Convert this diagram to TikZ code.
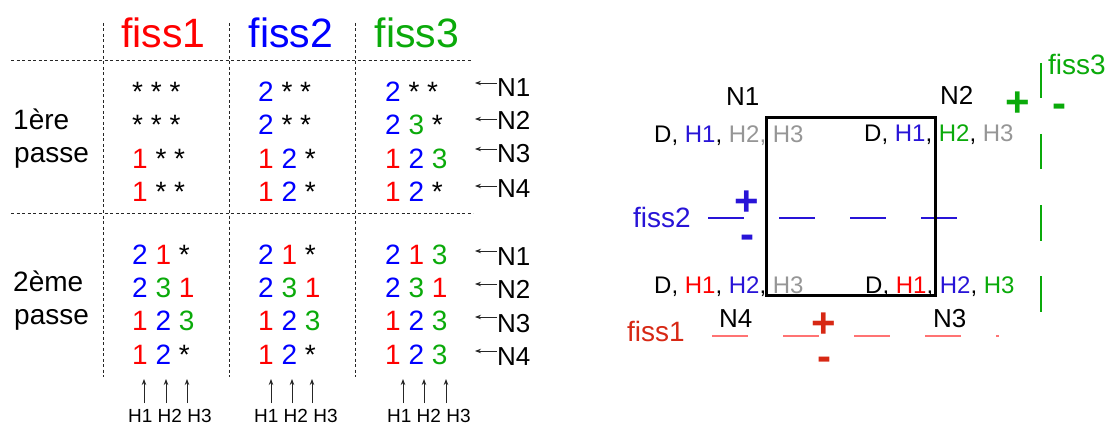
\documentclass[tikz,border=0pt]{standalone}
\usepackage{fontspec}
\setmainfont{Liberation Sans}
\usetikzlibrary{arrows.meta}
\definecolor{cred}{RGB}{255,0,0}
\definecolor{cblue}{RGB}{0,0,255}
\definecolor{cgreen}{RGB}{10,170,10}
\definecolor{rblue}{RGB}{40,20,215}
\definecolor{rred}{RGB}{215,40,20}
\definecolor{rpink}{RGB}{255,115,115}
\definecolor{cgray}{RGB}{150,150,150}
\newcommand\cR[1]{\textcolor{cred}{#1}}
\newcommand\cB[1]{\textcolor{cblue}{#1}}
\newcommand\cG[1]{\textcolor{cgreen}{#1}}
\newcommand\rB[1]{\textcolor{rblue}{#1}}
\newcommand\cY[1]{\textcolor{cgray}{#1}}
\newcommand\fs[1]{\fontsize{#1}{#1}\selectfont}
\begin{document}
\begin{tikzpicture}[x=1pt,y=-1pt,
  tdash/.style={draw=black!85, line width=0.8pt, dash pattern=on 3pt off 2.5pt},
  head/.style={anchor=base, inner sep=0pt, font=\fs{41}},
  rowlab/.style={anchor=base west, inner sep=0pt, font=\fs{28}},
  cell/.style={anchor=base west, inner sep=0pt, font=\fs{28}},
  nlab/.style={anchor=base west, inner sep=0pt, font=\fs{26}},
  narrow/.style={-{Stealth[length=6pt,width=4.5pt]}, line width=0.9pt, draw=black!85},
  hlab/.style={anchor=base west, inner sep=0pt, font=\fs{19}},
  htxt/.style={anchor=base west, inner sep=0pt, font=\fs{24}},
  pm/.style={anchor=base, inner sep=0pt, font=\bfseries\fs{42}},
  flab/.style={anchor=base west, inner sep=0pt, font=\fs{28}},
  crack/.style={line width=1.2pt, dash pattern=on 35.5pt off 35.5pt}
]
\useasboundingbox (0,0) rectangle (1109,425);

% ---------- left table ----------
\foreach \x in {103,229,355} \draw[tdash] (\x,23) -- (\x,377);
\draw[tdash] (11,60) -- (471,60);
\draw[tdash] (11,213) -- (473,213);

\node[head,text=cred]   (h1) at (163.5,48) {fiss1};
\node[head,text=cblue]  (h2) at (291,48) {fiss2};
\node[head,text=cgreen] (h3) at (417,48) {fiss3};

\node[rowlab] (p1a) at (13,130) {1ère};
\node[rowlab] (p1b) at (14,163) {passe};
\node[rowlab] (p2a) at (13,291) {2ème};
\node[rowlab] (p2b) at (14,324) {passe};

% first pass
\node[cell] (a11) at (132,102) {* * *};
\node[cell] (a12) at (132,135) {* * *};
\node[cell] (a13) at (132,168) {\cR{1} * *};
\node[cell] (a14) at (132,201) {\cR{1} * *};
\node[cell] (b11) at (258,102) {\cB{2} * *};
\node[cell] (b12) at (258,135) {\cB{2} * *};
\node[cell] (b13) at (258,168) {\cR{1} \cB{2} *};
\node[cell] (b14) at (258,201) {\cR{1} \cB{2} *};
\node[cell] (c11) at (385,102) {\cB{2} * *};
\node[cell] (c12) at (385,135) {\cB{2} \cG{3} *};
\node[cell] (c13) at (385,168) {\cR{1} \cB{2} \cG{3}};
\node[cell] (c14) at (385,201) {\cR{1} \cB{2} *};
% second pass
\node[cell] (a21) at (132,264) {\cB{2} \cR{1} *};
\node[cell] (a22) at (132,297) {\cB{2} \cG{3} \cR{1}};
\node[cell] (a23) at (132,330) {\cR{1} \cB{2} \cG{3}};
\node[cell] (a24) at (132,364) {\cR{1} \cB{2} *};
\node[cell] (b21) at (258,264) {\cB{2} \cR{1} *};
\node[cell] (b22) at (258,297) {\cB{2} \cG{3} \cR{1}};
\node[cell] (b23) at (258,330) {\cR{1} \cB{2} \cG{3}};
\node[cell] (b24) at (258,364) {\cR{1} \cB{2} *};
\node[cell] (c21) at (385,264) {\cB{2} \cR{1} \cG{3}};
\node[cell] (c22) at (385,297) {\cB{2} \cG{3} \cR{1}};
\node[cell] (c23) at (385,330) {\cR{1} \cB{2} \cG{3}};
\node[cell] (c24) at (385,364) {\cR{1} \cB{2} \cG{3}};

% N labels with arrows
\foreach \i/\n/\yb/\ya in {1/1/97/83, 2/2/130/119, 3/3/163/149, 4/4/197/186,
                           5/1/265/251, 6/2/298/284, 7/3/332/317, 8/4/365/351} {
  \node[nlab] (nl\i) at (497,\yb) {N\n};
  \coordinate (nt\i) at (475,\ya);
  \draw[narrow] (nt\i -| nl\i.west) -- (nt\i);
}

% H arrows and labels
\foreach \x [count=\k] in {144,166,187,271,292,312,403,424,446} {
  \coordinate (hb\k) at (\x,403);
  \coordinate (ht\k) at (\x,379);
  \draw[narrow] (hb\k) -- (ht\k);
}
\node[hlab] (hl1) at (128,422) {H1 H2 H3};
\node[hlab] (hl2) at (254,422) {H1 H2 H3};
\node[hlab] (hl3) at (387,422) {H1 H2 H3};

% ---------- right diagram ----------
% cracks
\coordinate (f2a) at (708,218); \coordinate (f2b) at (957,218);
\coordinate (f1a) at (712,336); \coordinate (f1b) at (999,336);
\coordinate (f3a) at (1041,63); \coordinate (f3b) at (1041,312);
\draw[crack,draw=rblue] (f2a) -- (f2b);
\draw[crack,draw=rpink] (f1a) -- (f1b);
\draw[crack,draw=cgreen] (f3a) -- (f3b);

\node[flab,text=rblue]  (lf2) at (633,227) {fiss2};
\node[flab,text=rred]   (lf1) at (627,341) {fiss1};
\node[flab,text=cgreen] (lf3) at (1048,75) {fiss3};

\node[pm,text=cgreen] (gp) at (1018,117) {+};
\node[pm,text=cgreen] (gm) at (1059,118) {-};
\node[pm,text=rblue]  (bp) at (747,215) {+};
\node[pm,text=rblue]  (bm) at (747,248) {-};
\node[pm,text=rred]   (rp) at (824,337) {+};
\node[pm,text=rred]   (rm) at (824,370) {-};

\node[htxt] (tul) at (654,143) {D, \rB{H1}, \cY{H2, H3}};
\node[htxt] (tur) at (864,142) {D, \rB{H1}, \cG{H2}, \cY{H3}};
\node[htxt] (tll) at (654,293) {D, \cR{H1}, \rB{H2}, \cY{H3}};
\node[htxt] (tlr) at (865,293) {D, \cR{H1}, \rB{H2}, \cG{H3}};

\node[draw, line width=3pt, minimum width=169pt, minimum height=177pt,
      inner sep=0pt] (sq) at (850.5,206.5) {};

\node[nlab] (rn1) at (726,106) {N1};
\node[nlab] (rn2) at (940,105) {N2};
\node[nlab] (rn4) at (719,327) {N4};
\node[nlab] (rn3) at (933,327) {N3};
\end{tikzpicture}
\end{document}
